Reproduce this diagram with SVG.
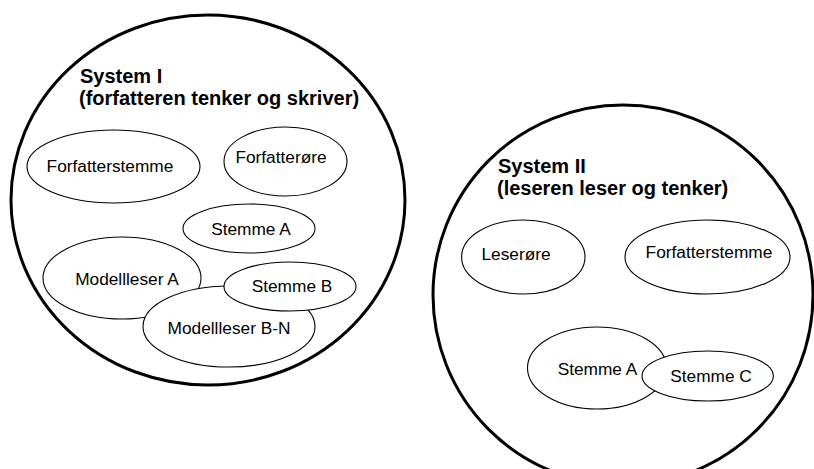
<svg xmlns="http://www.w3.org/2000/svg" width="814" height="469" viewBox="0 0 814 469">
<style>
.sys{fill:#fff;stroke:#000;stroke-width:3}
.n{fill:#fff;stroke:#000;stroke-width:1.1}
.t{font-family:"Liberation Sans",Arial,sans-serif;font-size:17.3px;fill:#000;text-anchor:middle}
.h{font-family:"Liberation Sans",Arial,sans-serif;font-size:20px;font-weight:bold;fill:#000}
</style>
<rect width="814" height="469" fill="#fff"/>
<g id="system1">
<ellipse class="sys" cx="208" cy="200" rx="197" ry="185"/>
<text class="h" x="80" y="83">System I</text>
<text class="h" x="79" y="105">(forfatteren tenker og skriver)</text>
</g>
<g id="system2">
<ellipse class="sys" cx="623" cy="295" rx="190" ry="190"/>
<text class="h" x="498" y="173">System II</text>
<text class="h" x="497" y="195">(leseren leser og tenker)</text>
</g>
<g id="forfatterstemme1"><ellipse class="n" cx="113.5" cy="166.5" rx="86.5" ry="36.5"/><text class="t" x="110" y="172">Forfatterstemme</text></g>
<g id="forfatterore"><ellipse class="n" cx="285.5" cy="161.5" rx="61.5" ry="34.5"/><text class="t" x="281" y="163">Forfatterøre</text></g>
<g id="stemmeA1"><ellipse class="n" cx="249" cy="228.5" rx="66" ry="24.5"/><text class="t" x="251" y="235">Stemme A</text></g>
<g id="modellleserA"><ellipse class="n" cx="122" cy="278" rx="79" ry="41"/><text class="t" x="127" y="285">Modellleser A</text></g>
<g id="modellleserBN"><ellipse class="n" cx="229" cy="326.5" rx="86" ry="40.5"/><text class="t" x="229" y="334">Modellleser B-N</text></g>
<g id="stemmeB"><ellipse class="n" cx="290" cy="286.5" rx="66" ry="24.5"/><text class="t" x="292" y="292">Stemme B</text></g>
<g id="leserore"><ellipse class="n" cx="523.3" cy="257" rx="61.7" ry="37"/><text class="t" x="516" y="260">Leserøre</text></g>
<g id="forfatterstemme2"><ellipse class="n" cx="707.5" cy="257" rx="82.5" ry="37"/><text class="t" x="709" y="258">Forfatterstemme</text></g>
<g id="stemmeA2"><ellipse class="n" cx="597" cy="368" rx="69.5" ry="41"/><text class="t" x="597.5" y="375">Stemme A</text></g>
<g id="stemmeC"><ellipse class="n" cx="707.7" cy="376" rx="65.7" ry="25"/><text class="t" x="711" y="382">Stemme C</text></g>
<g id="connectors"></g>
</svg>
